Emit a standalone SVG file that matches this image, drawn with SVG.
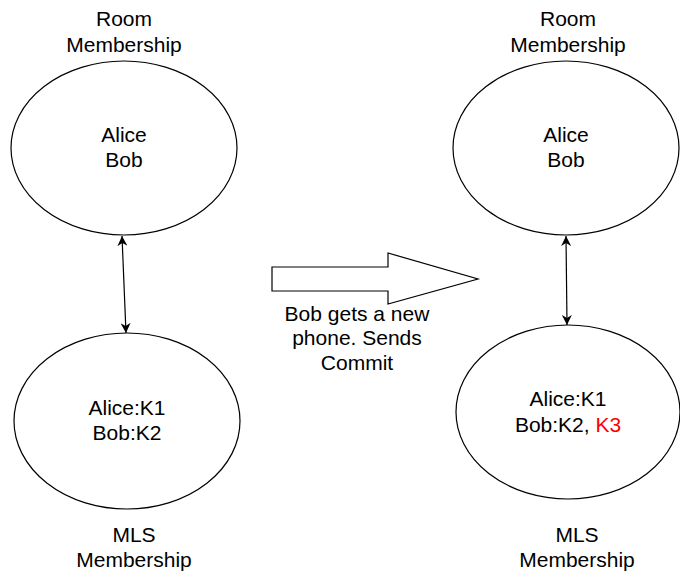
<svg xmlns="http://www.w3.org/2000/svg" width="680" height="571" viewBox="0 0 680 571">
<style>
.t{font-family:"Liberation Sans",Arial,Helvetica,sans-serif;font-size:21px;fill:#000;text-anchor:middle}
.s{fill:#fff;stroke:#000;stroke-width:1.2}
.c{stroke:#000;stroke-width:1.2;fill:none}
</style>
<defs>
<marker id="ah" viewBox="0 0 10 10" refX="10" refY="5" markerWidth="10" markerHeight="10" markerUnits="userSpaceOnUse" orient="auto-start-reverse">
<path d="M0,0 L10,5 L0,10 L3,5 Z" fill="#000"/>
</marker>
</defs>
<rect width="680" height="571" fill="#fff"/>
<g id="room-left">
<text class="t" x="124" y="26">Room</text>
<text class="t" x="124" y="52">Membership</text>
<ellipse class="s" cx="124" cy="148" rx="113" ry="87"/>
<text class="t" x="124" y="142">Alice</text>
<text class="t" x="124" y="167">Bob</text>
</g>
<g id="mls-left">
<ellipse class="s" cx="127" cy="421" rx="113" ry="88"/>
<text class="t" x="127" y="415">Alice:K1</text>
<text class="t" x="127" y="440">Bob:K2</text>
<text class="t" x="134" y="542">MLS</text>
<text class="t" x="134" y="567">Membership</text>
</g>
<g id="room-right">
<text class="t" x="568" y="26">Room</text>
<text class="t" x="568" y="52">Membership</text>
<ellipse class="s" cx="566" cy="148" rx="113" ry="87"/>
<text class="t" x="566" y="142">Alice</text>
<text class="t" x="566" y="167">Bob</text>
</g>
<g id="mls-right">
<ellipse class="s" cx="568" cy="412" rx="112" ry="87"/>
<text class="t" x="568" y="406">Alice:K1</text>
<text class="t" x="568" y="432">Bob:K2, <tspan fill="#ff0000">K3</tspan></text>
<text class="t" x="577" y="542">MLS</text>
<text class="t" x="577" y="567">Membership</text>
</g>
<g id="transition">
<path class="s" d="M272,267 H388 V253 L478,279 L388,304 V291 H272 Z"/>
<text class="t" x="357" y="321">Bob gets a new</text>
<text class="t" x="357" y="345">phone. Sends</text>
<text class="t" x="357" y="370">Commit</text>
</g>
<g id="connectors">
<line class="c" x1="122" y1="236" x2="126" y2="333" marker-start="url(#ah)" marker-end="url(#ah)"/>
<line class="c" x1="566" y1="236" x2="567" y2="325" marker-start="url(#ah)" marker-end="url(#ah)"/>
</g>
</svg>
